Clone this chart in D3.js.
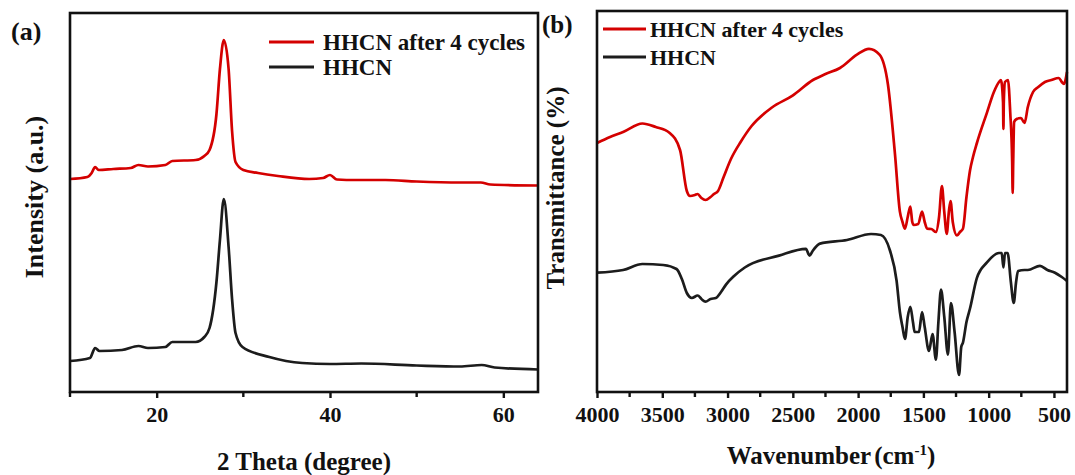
<!DOCTYPE html>
<html>
<head>
<meta charset="utf-8">
<script src="https://cdn.jsdelivr.net/npm/d3@7"></script>
<style>
  body { margin: 0; background: #fff; }
  svg text { font-family: "Liberation Serif", "Times New Roman", serif; font-weight: bold; fill: #111; }
</style>
</head>
<body>
<div id="chart"></div>
<script>
// XRD (panel a)
const xrdCycledTheta = [10, 12, 12.5, 12.9, 13.3, 15, 17, 17.9, 19, 21, 21.8, 24.5, 25.5, 26.1, 26.9, 27.3, 27.75, 28.3, 28.7, 29.1, 30, 31.7, 34, 37.6, 39.2, 40, 40.8, 43, 46.4, 50, 55, 57.4, 58.5, 64];
const xrdCycledInt = [213, 215, 219, 225, 222, 223, 224, 227, 225.5, 227, 231, 232, 236, 242, 278, 323, 352, 323, 261, 230, 222, 219, 216, 213, 214, 217, 212.5, 212, 212, 210.5, 209.5, 209.5, 207.5, 206.5];
const xrdFreshTheta = [10, 12.3, 12.9, 13.4, 16, 17.9, 19, 21, 21.8, 24.5, 25.5, 26.1, 26.9, 27.3, 27.75, 28.3, 28.7, 29.1, 29.9, 33, 36.8, 40, 43.6, 50, 55, 57.5, 59, 64];
const xrdFreshInt = [31, 34, 44, 41, 42, 46, 44, 45, 50, 50, 55, 64, 110, 152, 193, 145, 93, 59, 45, 35, 29, 28, 28.5, 26.5, 25.5, 27, 24.5, 22.5];
const xrdTicks = [20, 40, 60];
const xrdMinorTicks = [10, 30, 50];

// FTIR (panel b)
const irCycledWn = [4000, 3900, 3800, 3652, 3550, 3443, 3364, 3312, 3288, 3250, 3229, 3200, 3169, 3130, 3104, 3073, 3030, 2974, 2900, 2816, 2660, 2502, 2346, 2250, 2139, 2009, 1917, 1836, 1771, 1718, 1680, 1660, 1641, 1620, 1600, 1585, 1574, 1540, 1510, 1490, 1471, 1440, 1404, 1380, 1358, 1340, 1321, 1305, 1292, 1275, 1243, 1220, 1197, 1170, 1143, 1120, 1090, 1013, 960, 921, 906, 890, 887, 884, 875, 852, 835, 820, 816, 812, 805, 791, 753, 725, 700, 660, 620, 569, 520, 463, 440, 424, 400];
const irCycledT = [249, 255, 260, 268.5, 265, 259, 242, 201, 196, 197, 198, 194, 192, 195, 198, 201, 215, 233, 250, 266, 284.5, 296.4, 312, 318, 324, 337.4, 343.2, 337.4, 307, 238.4, 180.4, 170, 163.3, 175, 185.5, 170, 167, 168, 180.4, 170, 163.3, 163, 160, 175, 206, 180, 158.2, 180, 191, 170, 156.5, 160, 163.3, 195, 221.4, 235, 249, 279.4, 300, 310, 312, 290, 263, 290, 310, 312, 280, 230, 199, 230, 270, 272.5, 274, 269, 285, 300, 305, 310, 312, 314, 310, 308, 320];
const irFreshWn = [4000, 3800, 3652, 3493, 3391, 3350, 3312, 3273, 3229, 3200, 3169, 3130, 3090, 3050, 3012, 2950, 2868, 2606, 2400, 2372, 2346, 2292, 2085, 1901, 1825, 1756, 1705, 1680, 1660, 1641, 1620, 1600, 1580, 1567, 1534, 1510, 1490, 1457, 1430, 1404, 1385, 1365, 1340, 1312, 1289, 1261, 1227, 1210, 1197, 1170, 1143, 1090, 1013, 921, 900, 887, 875, 855, 830, 808, 790, 775, 725, 700, 607, 550, 492, 440, 400];
const irFreshT = [119.3, 122, 128, 127, 123, 113, 99, 94, 96.5, 93, 90.3, 93, 94, 100, 107.4, 116, 124.5, 136.4, 143.2, 136.4, 141.5, 148.4, 152, 158, 157, 141.5, 111, 80, 65, 53, 75, 85.2, 70, 60, 60, 80, 65, 41, 58, 32.3, 70, 102.3, 75, 37.4, 89, 60, 17, 45, 49.4, 70, 83.5, 114.2, 129.6, 139, 139, 124.5, 139, 139, 110, 89, 110, 121, 122, 122, 126.2, 122, 119.3, 115, 111];
const irTicks = [4000, 3500, 3000, 2500, 2000, 1500, 1000, 500];
const irMinorTicks = [3750, 3250, 2750, 2250, 1750, 1250, 750];

const seriesNames = ["HHCN after 4 cycles", "HHCN"];
const seriesColors = ["#d40000", "#1c1c1c"];

const width = 1075, height = 475;
const svg = d3.select("#chart").append("svg")
  .attr("width", width)
  .attr("height", height);

function drawPanel(cfg) {
  const g = svg.append("g");
  const x = d3.scaleLinear().domain(cfg.xDomain).range([cfg.left, cfg.right]);
  const y = d3.scaleLinear().domain(cfg.yDomain).range([cfg.bottom, cfg.top]);

  // curves
  const line = d3.line()
    .x(d => x(d[0]))
    .y(d => y(d[1]))
    .curve(d3.curveMonotoneX);

  cfg.series.forEach((s, i) => {
    const pts = s.xs.map((v, k) => [v, s.ys[k]]);
    if (cfg.xDomain[0] > cfg.xDomain[1]) pts.reverse();
    g.append("path")
      .datum(pts)
      .attr("fill", "none")
      .attr("stroke", seriesColors[i])
      .attr("stroke-width", 2.7)
      .attr("stroke-linejoin", "round")
      .attr("d", line);
  });

  // x axis with major + minor ticks
  const ax = g.append("g")
    .attr("transform", `translate(0,${cfg.bottom})`)
    .call(d3.axisBottom(x).tickValues(cfg.ticks).tickSize(6).tickPadding(8).tickFormat(d3.format("d")));
  ax.select(".domain").remove();
  ax.selectAll(".tick line").attr("stroke", "#111").attr("stroke-width", 2.4);
  ax.selectAll(".tick text")
    .attr("font-family", "Liberation Serif, serif")
    .attr("font-weight", "bold")
    .attr("font-size", 22)
    .attr("fill", "#111");

  g.selectAll(".minor")
    .data(cfg.minor)
    .enter()
    .append("line")
    .attr("x1", d => x(d)).attr("x2", d => x(d))
    .attr("y1", cfg.bottom).attr("y2", cfg.bottom + 5)
    .attr("stroke", "#111").attr("stroke-width", 2.4);

  // frame
  g.append("rect")
    .attr("x", cfg.left).attr("y", cfg.top)
    .attr("width", cfg.right - cfg.left)
    .attr("height", cfg.bottom - cfg.top)
    .attr("fill", "none")
    .attr("stroke", "#111")
    .attr("stroke-width", 2.6);

  // legend
  seriesNames.forEach((name, i) => {
    const ly = cfg.legend.y + i * cfg.legend.gap;
    g.append("line")
      .attr("x1", cfg.legend.x).attr("x2", cfg.legend.x + cfg.legend.len)
      .attr("y1", ly).attr("y2", ly)
      .attr("stroke", seriesColors[i]).attr("stroke-width", 3);
    g.append("text")
      .attr("x", cfg.legend.x + cfg.legend.len + cfg.legend.pad)
      .attr("y", ly)
      .attr("dy", "0.35em")
      .style("font-size", cfg.legend.size + "px")
      .text(name);
  });

  // panel tag
  g.append("text")
    .attr("x", cfg.tag.x).attr("y", cfg.tag.y)
    .style("font-size", cfg.tag.size + "px")
    .text(cfg.tag.text);

  // y title
  g.append("text")
    .attr("transform", `translate(${cfg.yTitle.x},${cfg.yTitle.y}) rotate(-90)`)
    .style("text-anchor", "middle")
    .style("font-size", cfg.yTitle.size + "px")
    .text(cfg.yTitle.text);

  return g;
}

const ga = drawPanel({
  left: 70, right: 538, top: 13, bottom: 392,
  xDomain: [10, 64], yDomain: [0, 379],
  ticks: xrdTicks, minor: xrdMinorTicks,
  series: [
    { xs: xrdCycledTheta, ys: xrdCycledInt },
    { xs: xrdFreshTheta, ys: xrdFreshInt }
  ],
  legend: { x: 269, y: 42, gap: 25, len: 45, pad: 9, size: 23 },
  tag: { x: 11, y: 40, size: 26, text: "(a)" },
  yTitle: { x: 43, y: 197, size: 26, text: "Intensity (a.u.)" }
});

ga.append("text")
  .attr("x", 304).attr("y", 470)
  .style("text-anchor", "middle")
  .style("font-size", "25px")
  .text("2 Theta (degree)");

const gb = drawPanel({
  left: 597, right: 1067, top: 11, bottom: 392,
  xDomain: [4000, 400], yDomain: [0, 381],
  ticks: irTicks, minor: irMinorTicks,
  series: [
    { xs: irCycledWn, ys: irCycledT },
    { xs: irFreshWn, ys: irFreshT }
  ],
  legend: { x: 603, y: 29, gap: 28, len: 43, pad: 4, size: 22 },
  tag: { x: 542, y: 33, size: 25, text: "(b)" },
  yTitle: { x: 564, y: 188, size: 25, text: "Transmittance (%)" }
});

const wt = gb.append("text")
  .attr("x", 831).attr("y", 464)
  .style("text-anchor", "middle")
  .style("font-size", "25px");
wt.append("tspan").text("Wavenumber");
wt.append("tspan").attr("dx", 3).text("(cm");
wt.append("tspan").attr("dy", -9).style("font-size", "15px").text("-1");
wt.append("tspan").attr("dy", 9).text(")");
</script>
</body>
</html>
